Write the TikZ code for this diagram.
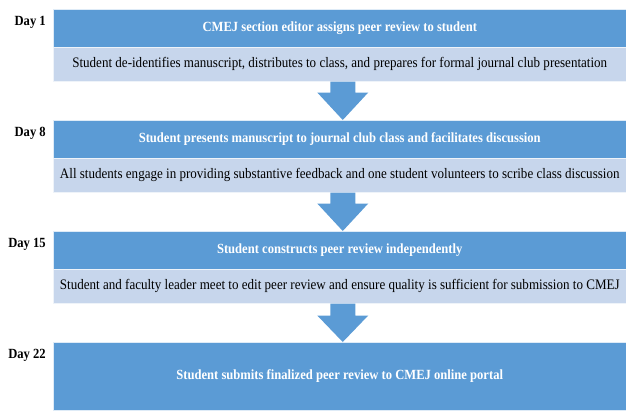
\documentclass[tikz,border=0pt]{standalone}
\usepackage{fontspec}
\setmainfont[FakeStretch=0.9]{Liberation Serif}
\usetikzlibrary{calc}
\definecolor{dblue}{HTML}{5B9BD5}
\definecolor{lblue}{HTML}{C7D6EC}
\begin{document}
\begin{tikzpicture}[x=1pt,y=-1pt,
  headbox/.style={fill=dblue, draw=white!80!dblue, line width=0.5pt, minimum width=573pt, inner sep=0pt,
    anchor=north west, text=white, font=\bfseries\fontsize{14}{16}\selectfont},
  subbox/.style={fill=lblue, draw=white!70!lblue, line width=0.5pt, minimum width=573pt, minimum height=34pt, inner sep=0pt,
    anchor=north west, text=black, font=\fontsize{14.5}{16}\selectfont},
  daylbl/.style={anchor=east, inner sep=0pt, font=\bfseries\fontsize{14}{16}\selectfont},
  blockarrow/.style={fill=dblue}]
\useasboundingbox (0,0) rectangle (626,410);
% boxes
\node[headbox, minimum height=38pt] (h1) at (53,9) {CMEJ section editor assigns peer review to student};
\node[subbox] (s1) at (53,47) {Student de-identifies manuscript, distributes to class, and prepares for formal journal club presentation};
\node[headbox, minimum height=38pt] (h2) at (53,120) {Student presents manuscript to journal club class and facilitates discussion};
\node[subbox] (s2) at (53,158) {All students engage in providing substantive feedback and one student volunteers to scribe class discussion};
\node[headbox, minimum height=38pt] (h3) at (53,231) {Student constructs peer review independently};
\node[subbox] (s3) at (53,269) {Student and faculty leader meet to edit peer review and ensure quality is sufficient for submission to CMEJ};
\node[headbox, minimum height=68pt] (h4) at (53,342) {Student submits finalized peer review to CMEJ online portal};
% day labels
\node[daylbl] (d1) at (46,22) {Day 1};
\node[daylbl] (d2) at (46,133) {Day 8};
\node[daylbl] (d3) at (46,244) {Day 15};
\node[daylbl] (d4) at (46,355) {Day 22};
% block arrows
\foreach \s/\h/\b in {s1/h2/11, s2/h3/11, s3/h4/12}{
  \fill[blockarrow] ($(\s.south)+(-9.5,0)$) -- ($(\s.south)+(-9.5,\b)$) -- ($(\s.south)+(-22.5,\b)$)
    -- ($(\h.north)+(3,0)$) -- ($(\s.south)+(28.5,\b)$) -- ($(\s.south)+(15.5,\b)$) -- ($(\s.south)+(15.5,0)$) -- cycle;
}
\end{tikzpicture}
\end{document}
